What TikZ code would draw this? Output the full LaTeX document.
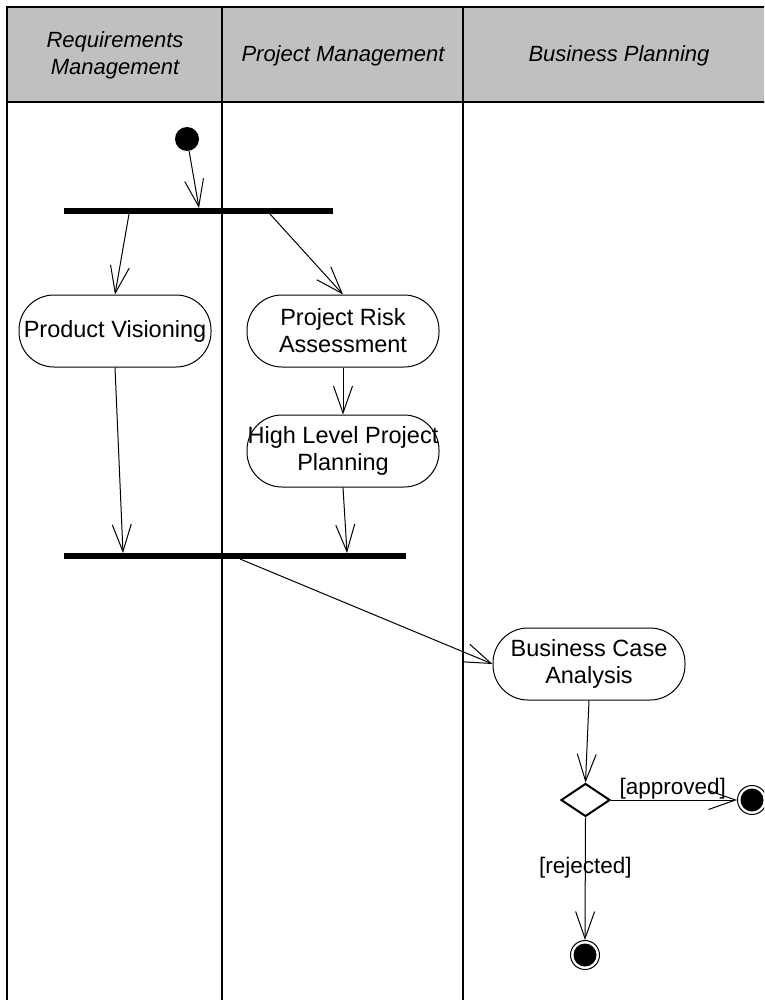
\documentclass[tikz,border=0pt]{standalone}
\usepackage{fontspec}
\setmainfont{Liberation Sans}
\usetikzlibrary{arrows.meta,shapes.geometric}
\definecolor{lanehead}{HTML}{C0C0C0}
\tikzset{
  flow/.style={draw, line width=1pt, -{Straight Barb[length=27pt,width=19pt,line width=1pt]}},
  activity/.style={draw, line width=1pt, rounded corners=35pt, minimum width=192pt,
    minimum height=72pt, inner sep=0pt, align=center, font=\fontsize{23.5}{27}\selectfont},
  lanefont/.style={font=\fontsize{22}{27}\selectfont\itshape, align=center},
  syncbar/.style={fill=black, inner sep=0pt, minimum height=6pt},
  lane/.style={line width=2pt},
  guard/.style={font=\fontsize{22.5}{26}\selectfont, inner sep=0pt},
  startstate/.style={circle, fill=black, minimum size=24pt, inner sep=0pt},
  endstate/.style={circle, draw, line width=1pt, minimum size=29pt, inner sep=0pt,
    path picture={\fill[black] (path picture bounding box.center) circle (11.5pt);}},
  decision/.style={diamond, draw, line width=2pt, minimum width=49pt, minimum height=33pt, inner sep=0pt},
}
\begin{document}
\begin{tikzpicture}[x=1pt,y=-1pt]
\useasboundingbox (0,0) rectangle (764,1000);
\clip (0,0) rectangle (764,1000);

% swimlane frame and headers
\fill[lanehead] (7,7) rectangle (780,102);
\draw[lane] (780,7) -- (7,7) -- (7,1010);
\draw[lane] (7,102) -- (780,102);
\draw[lane] (222,7) -- (222,1010);
\draw[lane] (463,7) -- (463,1010);

\node[lanefont] (hreq) at (115,55) {Requirements\\Management};
\node[lanefont] (hpm) at (343,56) {Project Management};
\node[lanefont] (hbp) at (619,56) {Business Planning};

% states and synchronisation bars
\node[startstate] (start) at (187,139) {};
\node[syncbar, minimum width=269pt] (fork) at (198.5,211) {};
\node[syncbar, minimum width=342pt] (join) at (235,556) {};

% activities
\node[activity] (pv) at (115,331) {\raisebox{-2pt}{Product Visioning}};
\node[activity] (pra) at (343,331) {Project Risk\\Assessment};
\node[activity] (hlpp) at (343,451) {High Level Project\\Planning};
\node[activity] (bca) at (589,664) {Business Case\\Analysis};

\node[decision] (dec) at (585.5,800) {};
\node[endstate] (endA) at (752,800) {};
\node[endstate] (endB) at (585,955) {};

% attachment points on the bars
\coordinate (forkIn) at (199,208);
\coordinate (forkOutA) at (129,214);
\coordinate (forkOutB) at (270,214);
\coordinate (joinInA) at (123,553);
\coordinate (joinInB) at (347,553);
\coordinate (joinOut) at (240,559);

% control flows
\draw[flow] (start) -- (forkIn);
\draw[flow] (forkOutA) -- (pv.north);
\draw[flow] (forkOutB) -- (pra.north);
\draw[flow] (pra) -- (hlpp);
\draw[flow] (pv.south) -- (joinInA);
\draw[flow] (hlpp.south) -- (joinInB);
\draw[flow] (joinOut) -- (bca.west);
\draw[flow] (bca.south) -- (dec.north);
\draw[flow] (dec.east) -- (endA.west)
  node[guard, pos=0.49, anchor=south, yshift=0pt] (lblApp) {[approved]};
\draw[flow] (dec.south) -- (endB.north)
  node[guard, pos=0.41] (lblRej) {[rejected]};
\end{tikzpicture}
\end{document}
